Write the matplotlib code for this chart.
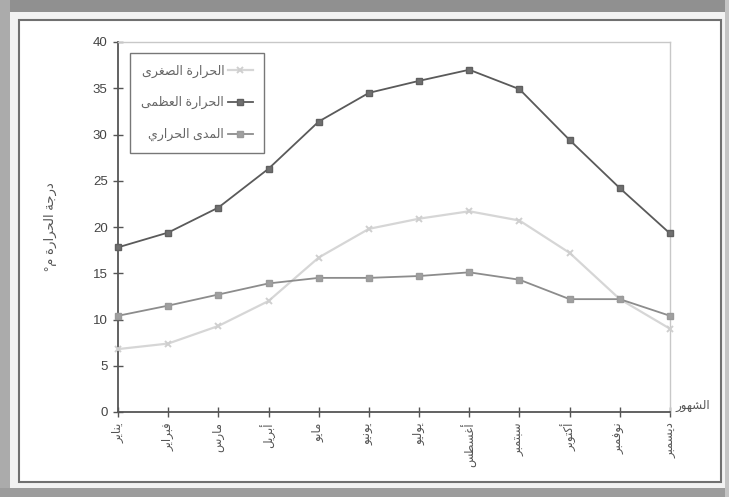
import matplotlib
matplotlib.use("Agg")
import matplotlib.pyplot as plt
from matplotlib.patches import Rectangle

# ---- data ----
months = ["يناير", "فبراير", "مارس", "أبريل", "مايو", "يونيو",
          "يوليو", "أغسطس", "سبتمبر", "أكتوبر", "نوفمبر", "ديسمبر"]
min_temp = [6.8, 7.4, 9.3, 12.0, 16.7, 19.8, 20.9, 21.7, 20.7, 17.2, 12.2, 9.0]
max_temp = [17.8, 19.4, 22.1, 26.3, 31.4, 34.5, 35.8, 37.0, 34.9, 29.4, 24.2, 19.3]
temp_range = [10.4, 11.5, 12.7, 13.9, 14.5, 14.5, 14.7, 15.1, 14.3, 12.2, 12.2, 10.4]
series_names = ["الحرارة الصغرى", "الحرارة العظمى", "المدى الحراري"]
y_title = "درجة الحرارة م°"
x_title = "الشهور"
y_ticks = [0, 5, 10, 15, 20, 25, 30, 35, 40]

# ---- simple Arabic contextual shaping (presentation forms) + RTL order ----
_F = {
    '\u0627': (0xFE8D, 0xFE8E, None, None),
    '\u0623': (0xFE83, 0xFE84, None, None),
    '\u0625': (0xFE87, 0xFE88, None, None),
    '\u0622': (0xFE81, 0xFE82, None, None),
    '\u0628': (0xFE8F, 0xFE90, 0xFE91, 0xFE92),
    '\u0629': (0xFE93, 0xFE94, None, None),
    '\u062A': (0xFE95, 0xFE96, 0xFE97, 0xFE98),
    '\u062B': (0xFE99, 0xFE9A, 0xFE9B, 0xFE9C),
    '\u062C': (0xFE9D, 0xFE9E, 0xFE9F, 0xFEA0),
    '\u062D': (0xFEA1, 0xFEA2, 0xFEA3, 0xFEA4),
    '\u062E': (0xFEA5, 0xFEA6, 0xFEA7, 0xFEA8),
    '\u062F': (0xFEA9, 0xFEAA, None, None),
    '\u0630': (0xFEAB, 0xFEAC, None, None),
    '\u0631': (0xFEAD, 0xFEAE, None, None),
    '\u0632': (0xFEAF, 0xFEB0, None, None),
    '\u0633': (0xFEB1, 0xFEB2, 0xFEB3, 0xFEB4),
    '\u0634': (0xFEB5, 0xFEB6, 0xFEB7, 0xFEB8),
    '\u0635': (0xFEB9, 0xFEBA, 0xFEBB, 0xFEBC),
    '\u0636': (0xFEBD, 0xFEBE, 0xFEBF, 0xFEC0),
    '\u0637': (0xFEC1, 0xFEC2, 0xFEC3, 0xFEC4),
    '\u0638': (0xFEC5, 0xFEC6, 0xFEC7, 0xFEC8),
    '\u0639': (0xFEC9, 0xFECA, 0xFECB, 0xFECC),
    '\u063A': (0xFECD, 0xFECE, 0xFECF, 0xFED0),
    '\u0641': (0xFED1, 0xFED2, 0xFED3, 0xFED4),
    '\u0642': (0xFED5, 0xFED6, 0xFED7, 0xFED8),
    '\u0643': (0xFED9, 0xFEDA, 0xFEDB, 0xFEDC),
    '\u0644': (0xFEDD, 0xFEDE, 0xFEDF, 0xFEE0),
    '\u0645': (0xFEE1, 0xFEE2, 0xFEE3, 0xFEE4),
    '\u0646': (0xFEE5, 0xFEE6, 0xFEE7, 0xFEE8),
    '\u0647': (0xFEE9, 0xFEEA, 0xFEEB, 0xFEEC),
    '\u0648': (0xFEED, 0xFEEE, None, None),
    '\u0649': (0xFEEF, 0xFEF0, None, None),
    '\u064A': (0xFEF1, 0xFEF2, 0xFEF3, 0xFEF4),
}


def ar(text):
    out = []
    n = len(text)
    for i, c in enumerate(text):
        if c not in _F:
            out.append(c)
            continue
        prev = text[i - 1] if i > 0 else None
        nxt = text[i + 1] if i < n - 1 else None
        join_prev = prev in _F and _F[prev][2] is not None
        join_next = nxt in _F and _F[c][2] is not None
        iso, fin, ini, med = _F[c]
        if join_prev and join_next:
            g = med
        elif join_prev:
            g = fin
        elif join_next:
            g = ini
        else:
            g = iso
        out.append(chr(g))
    return "".join(reversed(out))


plt.rcParams['font.family'] = ['Liberation Sans', 'DejaVu Sans']

W, H = 729, 497
fig = plt.figure(figsize=(W / 100, H / 100), dpi=100)
fig.patch.set_facecolor('white')


def px_rect(x0, y0, x1, y1, **kw):
    # rectangle given in pixel coordinates measured from the top-left corner
    fig.patches.append(Rectangle((x0 / W, 1 - y1 / H), (x1 - x0) / W, (y1 - y0) / H,
                                 transform=fig.transFigure, **kw))


# scanned-page frame
px_rect(0, 0, W, H, facecolor='#f2f2f2', edgecolor='none', zorder=-10)
px_rect(0, 0, W, 12, facecolor='#909090', edgecolor='none', zorder=-9)
px_rect(0, 0, 10, H, facecolor='#ababab', edgecolor='none', zorder=-9)
px_rect(0, 488, W, H, facecolor='#9c9c9c', edgecolor='none', zorder=-9)
px_rect(725, 0, W, H, facecolor='#c4c4c4', edgecolor='none', zorder=-9)
px_rect(19, 20, 721, 482, facecolor='white', edgecolor='#707070', linewidth=1.5, zorder=-8)

# plot area
ax = fig.add_axes([118 / W, 1 - 412 / H, (670 - 118) / W, (412 - 42) / H])
ax.set_facecolor('white')
x = list(range(len(months)))

l_min, = ax.plot(x, min_temp, color='#d6d6d6', linewidth=1.6, marker='x',
                 markersize=5, markeredgewidth=1.4, markeredgecolor='#cfcfcf',
                 zorder=3, clip_on=False)
l_max, = ax.plot(x, max_temp, color='#5a5a5a', linewidth=1.3, marker='s',
                 markersize=5, markerfacecolor='#707070', markeredgecolor='#606060',
                 zorder=4, clip_on=False)
l_rng, = ax.plot(x, temp_range, color='#8c8c8c', linewidth=1.3, marker='s',
                 markersize=4.5, markerfacecolor='#a0a0a0', markeredgecolor='#9a9a9a',
                 zorder=3, clip_on=False)

ax.set_xlim(0, len(months) - 1)
ax.set_ylim(0, 40)
ax.set_yticks(y_ticks)
ax.set_yticklabels([str(v) for v in y_ticks], fontsize=9.5, color='#444444')
ax.set_xticks(x)
ax.set_xticklabels([ar(m) for m in months], rotation=90, fontsize=8.5, color='#555555')
ax.tick_params(axis='both', direction='inout', length=7, width=1, color='#555555')
ax.tick_params(axis='y', pad=4)
ax.tick_params(axis='x', pad=4)

for side in ('left', 'bottom'):
    ax.spines[side].set_color('#555555')
    ax.spines[side].set_linewidth(1.3)
for side in ('top', 'right'):
    ax.spines[side].set_color('#c8c8c8')
    ax.spines[side].set_linewidth(1.0)

ax.set_ylabel(ar(y_title), fontsize=9.5, color='#555555')
ax.yaxis.set_label_coords(-0.11, 0.5)
ax.text(1.01, 0.0, ar(x_title), transform=ax.transAxes, fontsize=8.5,
        color='#555555', ha='left', va='bottom')

leg = ax.legend([l_min, l_max, l_rng], [ar(s) for s in series_names],
                loc='upper left', bbox_to_anchor=(0.022, 0.97), markerfirst=False,
                fontsize=9, frameon=True, fancybox=False, handlelength=2.0,
                borderpad=0.9, labelspacing=1.5, handletextpad=0.3, borderaxespad=0)
leg.get_frame().set_edgecolor('#555555')
leg.get_frame().set_linewidth(1.0)
for t in leg.get_texts():
    t.set_color('#666666')

fig.savefig('out.png', dpi=100)
